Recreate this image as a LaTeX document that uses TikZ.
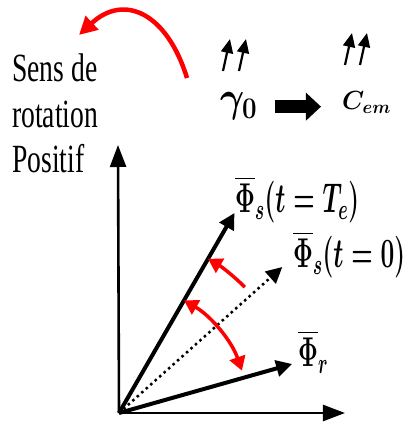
\RequirePackage{fix-cm}
\documentclass[tikz,border=0pt]{standalone}
\usepackage{fontspec}
\setmainfont{Liberation Serif}
\usepackage{amsmath}
\usetikzlibrary{arrows.meta}

\begin{document}
\begin{tikzpicture}[x=1pt, y=1pt,
    axis/.style={line width=2.6pt, -{Triangle[length=22pt,width=16pt]}},
    vec/.style={line width=4pt, -{Triangle[length=16pt,width=16pt]}},
    rot/.style={red, line width=3.5pt, -{Triangle[length=14pt,width=16pt]}},
    lbl/.style={inner sep=0pt, anchor=base west, yscale=1.7, font=\fontsize{24.5}{28}\selectfont\boldmath},
    tinyarrow/.style={line width=2.2pt, -{Triangle[length=14pt,width=12pt]}}]
  \useasboundingbox (-119,-11) rectangle (287,413);
  \coordinate (O) at (0,0);
  % axes
  \coordinate (xend) at (226,0);
  \coordinate (yend) at (-1,268);
  \draw[axis] (O) -- (xend);
  \draw[axis] (O) -- (yend);
  % flux vectors
  \coordinate (phir) at (15.8:180);
  \coordinate (phi0) at (41.8:219);
  \coordinate (phie) at (60:231);
  \draw[vec] (O) -- (phie);
  \draw[vec] (O) -- (phir);
  \draw[vec, line width=2.5pt, dash pattern=on 2.5pt off 3.5pt] (O) -- (phi0);
  % rotation of the stator flux
  \draw[rot] (45:178) arc[start angle=45, end angle=60, radius=178];
  \draw[rot, {Triangle[length=14pt,width=16pt]}-{Triangle[length=14pt,width=16pt]}]
    (19:130) arc[start angle=19, end angle=60, radius=130];
  \node[lbl] (lphie) at (116,200) {$\overline{\Phi}_s(t=T_e)$};
  \node[lbl] (lphi0) at (174,145) {$\overline{\Phi}_s(t=0)$};
  \node[lbl] (lphir) at (179,46) {$\overline{\Phi}_r$};
  % top line
  \node[anchor=north west, align=left, inner sep=0pt, yscale=1.45,
    font=\fontsize{27.6}{31.7}\selectfont] (sens) at (-107,360) {Sens de\\rotation\\Positif};
  \draw[rot, line width=4.5pt, -{Triangle[length=18pt,width=18pt]}]
    (68,335) .. controls (48,400) and (5,420) .. (-40,378);
  \node[lbl, yscale=0.68, font=\fontsize{37}{40}\selectfont\boldmath] (gamma) at (101,301) {$\gamma_0$};
  \node[inner sep=0pt, anchor=base west, yscale=1.05, font=\fontsize{25}{28}\selectfont\boldmath] (cem) at (223,303) {$C_{em}$};
  \draw[line width=13pt, -{Triangle[length=15pt,width=27pt]}, shorten <=18pt, shorten >=21pt]
    (gamma.east) -- (gamma.east -| cem.west);
  \foreach \a/\b in {104/342, 120/342, 226/348, 241/348}
    \draw[tinyarrow] (\a,\b) -- ++(7,32);
\end{tikzpicture}
\end{document}
